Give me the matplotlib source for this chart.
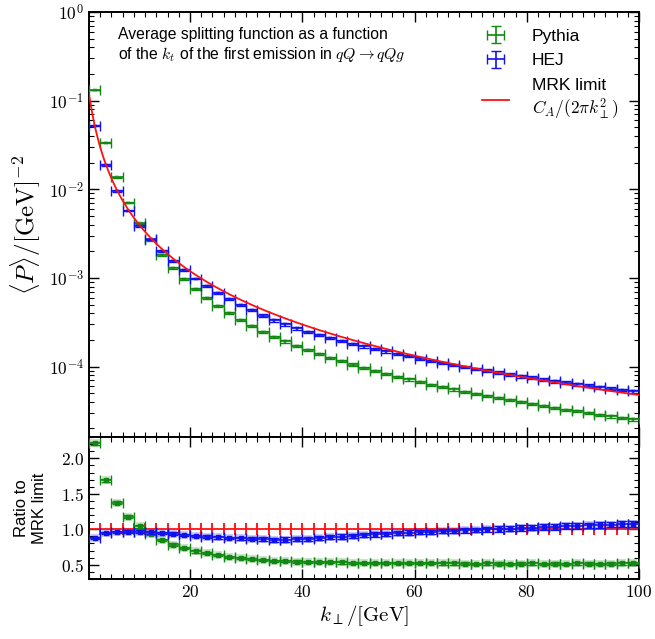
import numpy as np
import matplotlib
matplotlib.use("Agg")
import matplotlib.pyplot as plt
from matplotlib.ticker import MultipleLocator, FuncFormatter, LogLocator, NullFormatter

plt.rcParams['font.family'] = ['Liberation Sans', 'DejaVu Sans']
plt.rcParams['mathtext.fontset'] = 'cm'

# ---------------- data ----------------
kt_low = np.arange(2, 100, 2)      # lower bin edges [GeV]
kt_high = kt_low + 2               # upper bin edges [GeV]
CA = 3.0

pythia_ratio = [2.21, 1.69, 1.375, 1.18, 1.04, 0.935, 0.85, 0.785, 0.737, 0.69,
                0.66, 0.635, 0.61, 0.59, 0.575, 0.565, 0.555, 0.55, 0.545, 0.54,
                0.537, 0.535, 0.532, 0.53, 0.528, 0.526, 0.524, 0.522, 0.521, 0.52,
                0.519, 0.518, 0.518, 0.517, 0.516, 0.518, 0.517, 0.516, 0.517, 0.518,
                0.516, 0.517, 0.516, 0.518, 0.517, 0.516, 0.517, 0.518, 0.519]
hej_ratio = [0.878, 0.948, 0.962, 0.967, 0.967, 0.958, 0.948, 0.939, 0.92, 0.906,
             0.897, 0.887, 0.878, 0.873, 0.866, 0.858, 0.853, 0.855, 0.86, 0.868,
             0.877, 0.887, 0.898, 0.908, 0.918, 0.928, 0.937, 0.946, 0.953, 0.96,
             0.966, 0.971, 0.977, 0.983, 0.99, 0.997, 1.004, 1.01, 1.017, 1.023,
             1.03, 1.036, 1.042, 1.048, 1.054, 1.06, 1.066, 1.072, 1.078]
pythia_ratio_err = [0.02] * 10 + [0.015] * 39
hej_ratio_err = [0.02] * 15 + [0.03] * 20 + [0.04] * 14

title_lines = ["Average splitting function as a function",
               r"of the $k_t$ of the first emission in $qQ \to qQg$"]

# ---------------- derived ----------------
centers = 0.5 * (kt_low + kt_high)
halfw = 0.5 * (kt_high - kt_low)
mrk_binavg = CA / (2 * np.pi * kt_low * kt_high)
pythia_ratio = np.array(pythia_ratio)
hej_ratio = np.array(hej_ratio)
pythia_val = pythia_ratio * mrk_binavg
hej_val = hej_ratio * mrk_binavg
pythia_err = np.array(pythia_ratio_err) * mrk_binavg
hej_err = np.array(hej_ratio_err) * mrk_binavg

kk = np.linspace(2, 100, 500)
mrk_curve = CA / (2 * np.pi * kk ** 2)

green = '#118811'
blue = '#1111ee'
red = '#ff1111'

fig = plt.figure(figsize=(6.55, 6.39), dpi=100)
ax = fig.add_axes([0.1359, 0.316, 0.8397, 0.665])
axr = fig.add_axes([0.1359, 0.094, 0.8397, 0.222], sharex=ax)

# ---------------- main panel ----------------
h_py = ax.errorbar(centers, pythia_val, xerr=halfw, yerr=pythia_err, fmt='none',
                   ecolor=green, elinewidth=1.2, capsize=3.3, capthick=1.0, label='Pythia', zorder=3)
h_hej = ax.errorbar(centers, hej_val, xerr=halfw, yerr=hej_err, fmt='none',
                    ecolor=blue, elinewidth=1.2, capsize=3.3, capthick=1.0, label='HEJ', zorder=4)
ax.plot(centers, pythia_val, 's', ms=2.5, color=green, alpha=0.25, mew=0, zorder=2)
ax.plot(centers, hej_val, 's', ms=2.5, color=blue, alpha=0.25, mew=0, zorder=2)
h_mrk, = ax.plot(kk, mrk_curve, '-', color=red, lw=1.3, zorder=5,
                 label='MRK limit\n' + r'$C_A/(2\pi k_\perp^2)$')

ax.set_yscale('log')
ax.set_ylim(1.6e-5, 1.0)
ax.set_xlim(2, 100)
ax.yaxis.set_major_locator(LogLocator(base=10, numticks=10))
ax.yaxis.set_minor_locator(LogLocator(base=10, subs=np.arange(2, 10), numticks=20))
ax.yaxis.set_minor_formatter(NullFormatter())
ax.yaxis.set_major_formatter(FuncFormatter(lambda v, p: r'$10^{%d}$' % int(round(np.log10(v)))))
ax.set_ylabel(r'$\langle P\rangle/[\mathrm{GeV}]^{-2}$', fontsize=18, labelpad=4)
plt.setp(ax.get_xticklabels(), visible=False)

for i, line in enumerate(title_lines):
    ax.text(0.052, 0.948 - i * 0.047, line, transform=ax.transAxes, fontsize=11.3,
            ha='left', va='center')

leg = ax.legend([h_py, h_hej, h_mrk], ['Pythia', 'HEJ', 'MRK limit\n' + r'$C_A/(2\pi k_\perp^2)$'],
                loc='upper right', bbox_to_anchor=(0.985, 0.99), frameon=False, fontsize=12.5,
                handlelength=1.6, handletextpad=1.3, labelspacing=0.55, borderaxespad=0.3)

# ---------------- ratio panel ----------------
axr.errorbar(centers, np.ones_like(centers), xerr=halfw, fmt='none',
             ecolor=red, elinewidth=1.3, capsize=4.0, capthick=1.1, zorder=2)
axr.errorbar(centers, pythia_ratio, xerr=halfw, yerr=pythia_ratio_err, fmt='s', ms=3.5,
             color=green, mec=green, ecolor=green, elinewidth=1.2, capsize=3.3, capthick=1.0, zorder=3)
axr.errorbar(centers, hej_ratio, xerr=halfw, yerr=hej_ratio_err, fmt='s', ms=3.5,
             color=blue, mec=blue, ecolor=blue, elinewidth=1.2, capsize=3.3, capthick=1.0, zorder=4)
axr.plot(centers, pythia_ratio, 's', ms=5.5, color=green, alpha=0.22, mew=0, zorder=1)
axr.plot(centers, hej_ratio, 's', ms=5.5, color=blue, alpha=0.22, mew=0, zorder=1)

axr.set_ylim(0.3, 2.3)
axr.yaxis.set_major_locator(MultipleLocator(0.5))
axr.yaxis.set_minor_locator(MultipleLocator(0.1))
axr.yaxis.set_major_formatter(FuncFormatter(lambda v, p: r'$%.1f$' % v))
axr.xaxis.set_major_locator(MultipleLocator(20))
axr.xaxis.set_minor_locator(MultipleLocator(2))
axr.xaxis.set_major_formatter(FuncFormatter(lambda v, p: r'$%d$' % int(round(v))))
axr.set_xlabel(r'$k_\perp/[\mathrm{GeV}]$', fontsize=15, labelpad=2)
axr.set_ylabel('Ratio to\nMRK limit', fontsize=12, labelpad=10)
axr.set_xlim(2, 100)

for a in (ax, axr):
    a.tick_params(which='both', direction='in', top=True, right=True, labelsize=12.5)
    a.tick_params(which='major', length=7, width=1.0)
    a.tick_params(which='minor', length=3.5, width=0.8)
    for s in a.spines.values():
        s.set_linewidth(1.4)

fig.savefig('out.png', dpi=100)
